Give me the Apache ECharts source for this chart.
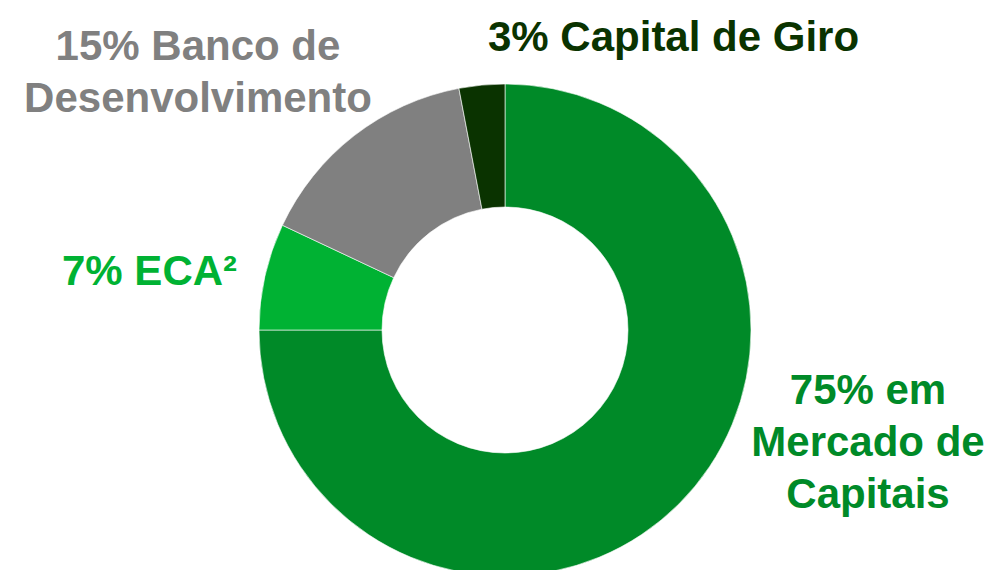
<!DOCTYPE html>
<html>
<head>
<meta charset="utf-8">
<script src="https://cdn.jsdelivr.net/npm/echarts@6/dist/echarts.min.js"></script>
<style>
  html, body { margin: 0; padding: 0; background: #fff; }
  #chart { width: 991px; height: 570px; }
</style>
</head>
<body>
<div id="chart"></div>
<script>
// fatias do grafico, sentido horario a partir do topo
const categories = ["Mercado de Capitais", "ECA²", "Banco de Desenvolvimento", "Capital de Giro"];
const values = [75, 7, 15, 3];
const labelTexts = ["75% em\nMercado de\nCapitais", "7% ECA²", "15% Banco de\nDesenvolvimento", "3% Capital de Giro"];
const colors = ["#008A28", "#00B233", "#808080", "#0A3300"];

// onde cada rotulo fica na tela
const labelPos = [
  { x: 868, y: 441, align: "center" },
  { x: 62, y: 270, align: "left" },
  { x: 198, y: 71, align: "center" },
  { x: 488, y: 36, align: "left" }
];

const chart = echarts.init(document.getElementById("chart"), null, { renderer: "svg" });

chart.setOption({
  animation: false,
  series: [{
    type: "pie",
    center: [505, 330],
    radius: [123, 246],
    startAngle: 90,
    clockwise: true,
    itemStyle: { borderColor: "#ffffff", borderWidth: 0.6 },
    emphasis: { disabled: true },
    labelLine: { show: false },
    label: {
      show: true,
      overflow: "none",
      width: 420,
      fontFamily: "'Liberation Sans', Arial, sans-serif",
      fontWeight: "bold",
      fontSize: 42,
      lineHeight: 52
    },
    labelLayout: function (params) {
      const p = labelPos[params.dataIndex];
      return { x: p.x, y: p.y, align: p.align, verticalAlign: "middle" };
    },
    data: categories.map(function (name, i) {
      return {
        name: name,
        value: values[i],
        itemStyle: { color: colors[i] },
        label: { formatter: labelTexts[i], color: colors[i] }
      };
    })
  }]
});
</script>
</body>
</html>
